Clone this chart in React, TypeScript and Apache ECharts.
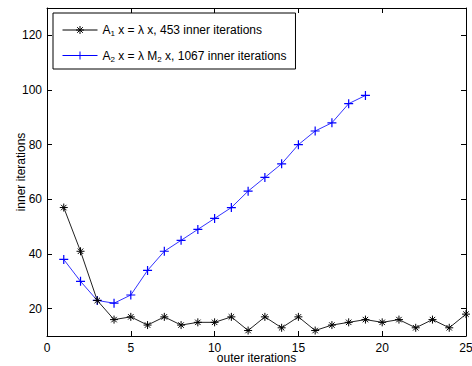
import React, { useEffect, useRef } from "react";
import * as echarts from "echarts";

const outerA1: number[] = [1,2,3,4,5,6,7,8,9,10,11,12,13,14,15,16,17,18,19,20,21,22,23,24,25];
const innerA1: number[] = [57,41,23,16,17,14,17,14,15,15,17,12,17,13,17,12,14,15,16,15,16,13,16,13,18];
const outerA2: number[] = [1,2,3,4,5,6,7,8,9,10,11,12,13,14,15,16,17,18,19];
const innerA2: number[] = [38,30,23,22,25,34,41,45,49,53,57,63,68,73,80,85,88,95,98];
const xTicks: number[] = [0,5,10,15,20,25];
const yTicks: number[] = [20,40,60,80,100,120];

const FONT = "Liberation Sans";
const PLUS = "path://M5,0L5,10M0,5L10,5";
const STAR = "path://M5,0L5,10M0,5L10,5M1.6,1.6L8.4,8.4M8.4,1.6L1.6,8.4";
const LEG_STAR = "path://M0,5L35,5M17.5,1L17.5,9M13.5,5L21.5,5M14.7,2.2L20.3,7.8M20.3,2.2L14.7,7.8";
const LEG_PLUS = "path://M0,5L35,5M17.5,1L17.5,9M13.5,5L21.5,5";

export default function App() {
  const ref = useRef<HTMLDivElement>(null);
  useEffect(() => {
    if (!ref.current) return;
    const chart = echarts.init(ref.current, undefined, { renderer: "svg" });
    const axisCommon = {
      axisLine: { show: true, onZero: false, lineStyle: { color: "#000", width: 1 } },
      axisTick: { show: true, inside: true, length: 5, lineStyle: { color: "#000" } },
      splitLine: { show: false },
    };
    chart.setOption({
      animation: false,
      backgroundColor: "#fff",
      textStyle: { fontFamily: FONT },
      grid: { left: 47, top: 8, right: 6, bottom: 30, containLabel: false, outerBoundsMode: "none" },
      legend: {
        left: 53,
        top: 13,
        orient: "vertical",
        backgroundColor: "#fff",
        borderColor: "#000",
        borderWidth: 1,
        borderRadius: 0,
        padding: [11, 9, 6, 9],
        itemWidth: 35,
        itemHeight: 8,
        itemGap: 12,
        selectedMode: false,
        textStyle: {
          fontFamily: FONT,
          fontSize: 12,
          color: "#000",
          rich: {
            sub: { fontSize: 8, fontFamily: FONT, color: "#000", padding: [7, 0, 0, 0] },
          },
        },
        formatter: (name: string) =>
          name === "A1"
            ? "A{sub|1} x = λ x, 453 inner iterations"
            : "A{sub|2} x = λ M{sub|2} x, 1067 inner iterations",
        data: [
          { name: "A1", icon: LEG_STAR, itemStyle: { color: "#000", borderColor: "#000", borderWidth: 1 } },
          { name: "A2", icon: LEG_PLUS, itemStyle: { color: "#0000ff", borderColor: "#0000ff", borderWidth: 1 } },
        ],
      },
      xAxis: [
        {
          type: "value",
          min: 0,
          max: 25,
          interval: 5,
          name: "outer iterations",
          nameLocation: "middle",
          nameGap: 16,
          nameMoveOverlap: false,
          nameTextStyle: { fontFamily: FONT, fontSize: 12, color: "#000" },
          axisLabel: {
            fontFamily: FONT,
            fontSize: 12,
            color: "#000",
            margin: 6,
            customValues: xTicks,
          },
          ...axisCommon,
          axisTick: { ...axisCommon.axisTick, customValues: xTicks },
        },
        {
          type: "value",
          position: "top",
          min: 0,
          max: 25,
          interval: 5,
          axisLabel: { show: false },
          ...axisCommon,
          axisTick: { ...axisCommon.axisTick, customValues: xTicks },
        },
      ],
      yAxis: [
        {
          type: "value",
          min: 10,
          max: 130,
          name: "inner iterations",
          nameLocation: "middle",
          nameGap: 20,
          nameMoveOverlap: false,
          nameTextStyle: { fontFamily: FONT, fontSize: 12, color: "#000" },
          axisLabel: {
            fontFamily: FONT,
            fontSize: 12,
            color: "#000",
            margin: 5,
            customValues: yTicks,
          },
          ...axisCommon,
          axisTick: { ...axisCommon.axisTick, customValues: yTicks },
        },
        {
          type: "value",
          position: "right",
          min: 10,
          max: 130,
          axisLabel: { show: false },
          ...axisCommon,
          axisTick: { ...axisCommon.axisTick, customValues: yTicks },
        },
      ],
      series: [
        {
          name: "A1",
          type: "line",
          xAxisIndex: 0,
          yAxisIndex: 0,
          data: outerA1.map((x, i) => [x, innerA1[i]]),
          symbol: STAR,
          symbolSize: 8,
          showAllSymbol: true,
          lineStyle: { color: "#222", width: 1 },
          itemStyle: { color: "#000", borderColor: "#000", borderWidth: 1 },
          emphasis: { disabled: true },
          z: 3,
        },
        {
          name: "A2",
          type: "line",
          xAxisIndex: 0,
          yAxisIndex: 0,
          data: outerA2.map((x, i) => [x, innerA2[i]]),
          symbol: PLUS,
          symbolSize: 9,
          showAllSymbol: true,
          lineStyle: { color: "#3333ff", width: 1 },
          itemStyle: { color: "#0000ff", borderColor: "#0000ff", borderWidth: 1.2 },
          emphasis: { disabled: true },
          z: 2,
        },
      ],
    });
    return () => chart.dispose();
  }, []);
  return <div ref={ref} style={{ width: 472, height: 366, position: "absolute", left: 0, top: 0 }} />;
}
